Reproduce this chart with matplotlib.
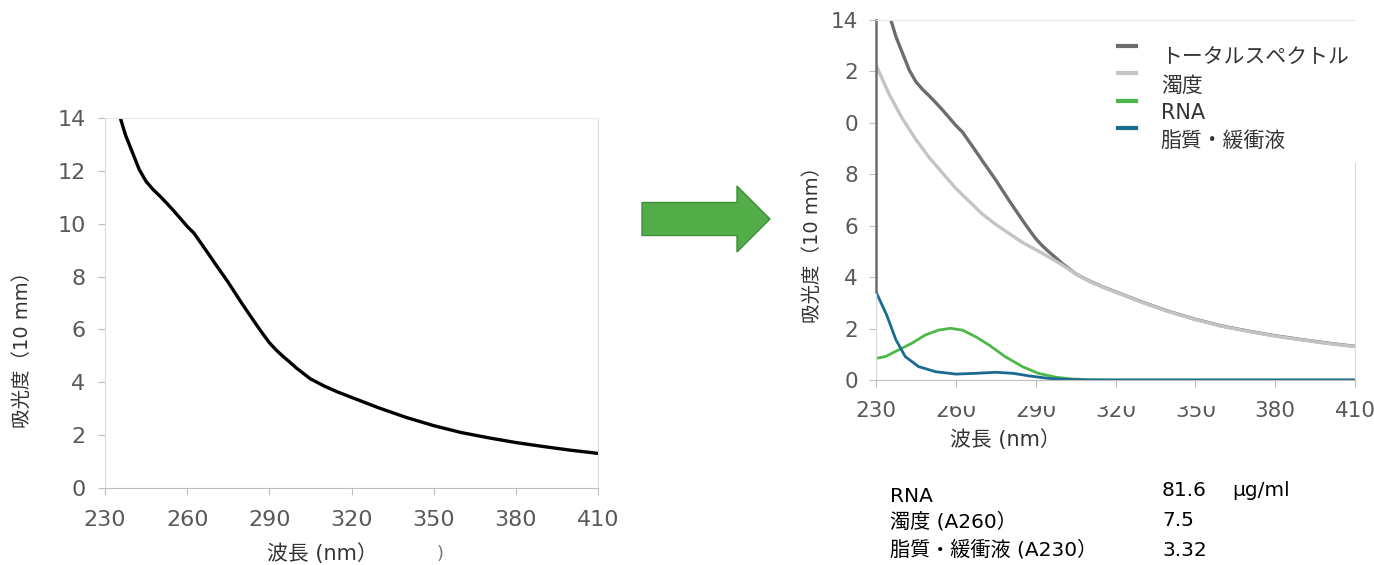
import numpy as np
import matplotlib
matplotlib.use("Agg")
import matplotlib.pyplot as plt
from matplotlib.patches import FancyArrow, Rectangle

plt.rcParams['font.family'] = ['DejaVu Sans', 'Noto Sans CJK JP']

# -----------------------------------------------------------
# data
# -----------------------------------------------------------
wl_total = [230, 233, 235, 237.5, 240, 242.5, 245, 247.5, 250, 252.5, 255,
            257.5, 260, 262.5, 265, 267.5, 270, 272.5, 275, 277.5, 280, 282.5,
            285, 287.5, 290, 292.5, 295, 297.5, 300, 305, 310, 315, 320, 330,
            340, 350, 360, 370, 380, 390, 400, 410]
total = [17.0, 15.0, 14.2, 13.35, 12.7, 12.05, 11.6, 11.3, 11.05, 10.78, 10.5,
         10.2, 9.9, 9.64, 9.27, 8.9, 8.52, 8.15, 7.78, 7.38, 6.98, 6.6, 6.22,
         5.85, 5.5, 5.22, 4.98, 4.76, 4.53, 4.13, 3.86, 3.63, 3.43, 3.03, 2.67,
         2.36, 2.1, 1.9, 1.72, 1.57, 1.43, 1.31]

wl_turb = [230, 235, 240, 245, 250, 255, 260, 265, 270, 275, 280, 285, 290,
           295, 300, 305, 310, 315, 320, 330, 340, 350, 360, 370, 380, 390,
           400, 410]
turbidity = [12.25, 11.1, 10.15, 9.35, 8.65, 8.05, 7.45, 6.95, 6.45, 6.05,
             5.7, 5.35, 5.07, 4.78, 4.47, 4.13, 3.85, 3.62, 3.42, 3.02, 2.66,
             2.35, 2.09, 1.89, 1.71, 1.56, 1.42, 1.30]

wl_rna = [230, 233.5, 238.5, 243.5, 248.5, 253.5, 258, 262.5, 267.5, 272.5,
          278.5, 285, 291, 297.5, 303.5, 310, 320, 410]
rna = [0.84, 0.91, 1.17, 1.43, 1.75, 1.94, 2.01, 1.94, 1.68, 1.36, 0.91, 0.52,
       0.26, 0.11, 0.04, 0.01, 0.0, 0.0]

wl_lip = [230, 234, 237.5, 241, 246, 252.5, 260, 267.5, 275, 281.5, 287.5,
          295, 302.5, 310, 410]
lipid = [3.43, 2.53, 1.56, 0.91, 0.52, 0.32, 0.23, 0.26, 0.30, 0.26, 0.16,
         0.06, 0.02, 0.0, 0.0]

xticks = [230, 260, 290, 320, 350, 380, 410]
yticks = [0, 2, 4, 6, 8, 10, 12, 14]
right_ylabels = ['0', '2', '4', '6', '8', '0', '2', '14']

legend_names = ['トータルスペクトル', '濁度', 'RNA', '脂質・緩衝液']
table_names = ['RNA', '濁度 (A260）', '脂質・緩衝液 (A230）']
table_values = ['81.6', '7.5', '3.32']
table_unit = 'μg/ml'

TICK_C = '#595959'
W, H = 1374, 565


def fx(px):
    return px / W


def fy(py):
    return 1 - py / H


def style_axis(ax, left_color, pad_x, pad_y, size):
    ax.set_xlim(230, 410)
    ax.set_ylim(0, 14)
    ax.set_xticks(xticks)
    ax.set_yticks(yticks)
    ax.spines['top'].set_color('#e6e6e6')
    ax.spines['left'].set_color(left_color)
    ax.spines['bottom'].set_color('#bfbfbf')
    ax.spines['right'].set_color('#d9d9d9')
    ax.tick_params(axis='x', direction='out', length=5, color='#bfbfbf',
                   labelcolor=TICK_C, labelsize=size, pad=pad_x)
    ax.tick_params(axis='y', direction='out', length=5, color='#bfbfbf',
                   labelcolor=TICK_C, labelsize=size, pad=pad_y)


fig = plt.figure(figsize=(13.74, 5.65), dpi=100)

# left chart: total spectrum only
ax1 = fig.add_axes([fx(105), fy(488), fx(598) - fx(105), fy(118) - fy(488)])
ax1.plot(wl_total, total, color='black', lw=2.4)
style_axis(ax1, '#d9d9d9', 11, 9, 16)
fig.text(fx(22), fy(345), '吸光度（10 mm）', rotation=90, ha='center',
         va='center', fontsize=14, color='#333333')
fig.text(fx(322), fy(543), '波長 (nm）', ha='center', va='top', fontsize=15,
         color='#333333')
fig.text(fx(440), fy(545), ')', ha='center', va='top', fontsize=13,
         color='#777777')

# arrow between the charts
arrow = FancyArrow(fx(642), fy(219), fx(770) - fx(642), 0,
                   width=33 / H, head_width=66 / H, head_length=33 / W,
                   length_includes_head=True, transform=fig.transFigure,
                   facecolor='#52ad48', edgecolor='#3e8e3a', lw=1)
fig.patches.append(arrow)

# right chart: decomposition
ax2 = fig.add_axes([fx(876), fy(380), fx(1355) - fx(876), fy(20) - fy(380)])
ax2.plot(wl_total, total, color='#6d6d6d', lw=2.4, label=legend_names[0])
ax2.plot(wl_turb, turbidity, color='#c4c4c4', lw=2.4, label=legend_names[1])
ax2.plot(wl_rna, rna, color='#4db848', lw=2.0, label=legend_names[2])
ax2.plot(wl_lip, lipid, color='#1b6a92', lw=2.0, label=legend_names[3])
style_axis(ax2, '#6d6d6d', 10, 8, 15.5)
ax2.spines['left'].set_linewidth(1.8)
ax2.spines['left'].set_bounds(lipid[0], 14)
ax2.axvline(230, ymin=0, ymax=lipid[0] / 14, color='#d9d9d9', lw=1)
ax2.spines['right'].set_bounds(0, 8.45)
ax2.set_yticklabels(right_ylabels)
leg = ax2.legend(loc='upper left', bbox_to_anchor=(fx(1118), fy(48)),
                 bbox_transform=fig.transFigure, frameon=False, fontsize=15,
                 handlelength=0.85, handletextpad=1.2, labelspacing=0.36,
                 borderpad=0, borderaxespad=0)
for line in leg.get_lines():
    line.set_linewidth(3)
    line.set_ydata(np.asarray(line.get_ydata()) + 8)
for t in leg.get_texts():
    t.set_color('#333333')

fig.text(fx(812), fy(240), '吸光度（10 mm）', rotation=90, ha='center',
         va='center', fontsize=14, color='#333333')
fig.text(fx(1005), fy(440), '波長 (nm）', ha='center', va='center',
         fontsize=15, color='#333333')

# the reference has the tops of a few x labels cut off
fig.patches.append(Rectangle((fx(935), fy(406)), fx(1215) - fx(935),
                             fy(396) - fy(406), transform=fig.transFigure,
                             facecolor='white', edgecolor='none', zorder=10))

# results table under the right chart
name_y = [497, 522, 550]
value_y = [490, 520, 550]
for name, ny in zip(table_names, name_y):
    fig.text(fx(890), fy(ny), name, ha='left', va='center', fontsize=14.5,
             color='black')
for val, vy in zip(table_values, value_y):
    fig.text(fx(1162), fy(vy), val, ha='left', va='center', fontsize=14.5,
             color='black')
fig.text(fx(1232), fy(490), table_unit, ha='left', va='center',
         fontsize=14.5, color='black')

fig.savefig('out.png', dpi=100)
